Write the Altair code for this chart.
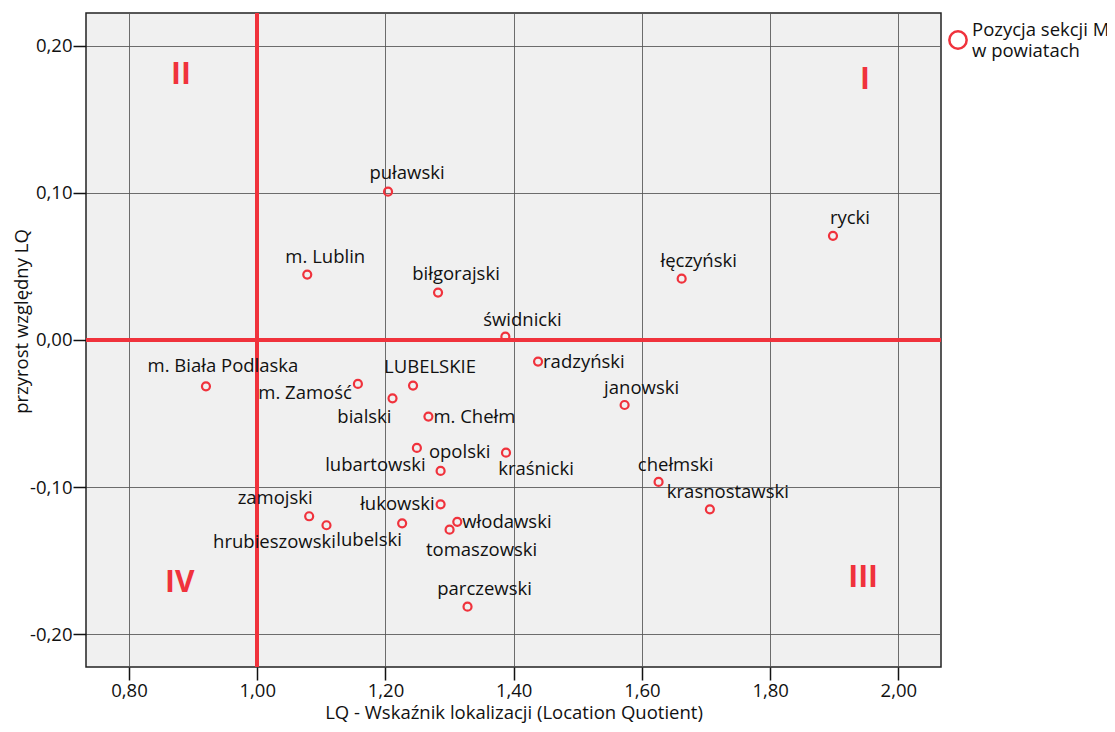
import altair as alt
import pandas as pd

# ---- data ----
names = ["puławski", "m. Lublin", "biłgorajski", "świdnicki", "rycki", "łęczyński",
         "radzyński", "janowski", "LUBELSKIE", "bialski", "m. Chełm", "opolski",
         "lubartowski", "kraśnicki", "chełmski", "krasnostawski", "łukowski",
         "lubelski", "włodawski", "tomaszowski", "zamojski", "hrubieszowski",
         "m. Biała Podlaska", "m. Zamość", "parczewski"]
lq = [1.204, 1.078, 1.282, 1.387, 1.898, 1.662,
      1.438, 1.573, 1.243, 1.211, 1.267, 1.249,
      1.286, 1.388, 1.626, 1.706, 1.286,
      1.226, 1.312, 1.300, 1.081, 1.108,
      0.920, 1.157, 1.328]
growth = [0.1007, 0.0444, 0.0322, 0.0022, 0.0707, 0.0416,
          -0.0147, -0.0442, -0.0310, -0.0397, -0.0521, -0.0734,
          -0.0890, -0.0766, -0.0965, -0.1151, -0.1117,
          -0.1246, -0.1236, -0.1289, -0.1198, -0.1259,
          -0.0315, -0.0299, -0.1812]

quad_labels = ["I", "II", "III", "IV"]
quad_x = [1.948, 0.881, 1.945, 0.879]
quad_y = [0.1768, 0.1802, -0.1615, -0.1649]

x_ticks = [0.8, 1.0, 1.2, 1.4, 1.6, 1.8, 2.0]
y_ticks = [-0.2, -0.1, 0.0, 0.1, 0.2]
series_name = "Pozycja sekcji M|w powiatach"

# label placement (align, dx, dy) relative to the point
label_place = {
    "puławski": ("center", 19, -19), "m. Lublin": ("center", 18, -18),
    "biłgorajski": ("center", 18, -19), "świdnicki": ("center", 17, -17),
    "rycki": ("center", 17, -18), "łęczyński": ("center", 17, -18),
    "radzyński": ("left", 5, 0), "janowski": ("center", 17, -17),
    "LUBELSKIE": ("center", 17, -19), "bialski": ("right", -1, 19),
    "m. Chełm": ("left", 5, 0), "opolski": ("left", 12, 4),
    "lubartowski": ("right", -15, -6), "kraśnicki": ("center", 30, 16),
    "chełmski": ("center", 17, -17), "krasnostawski": ("center", 18, -17),
    "łukowski": ("right", -6, 0), "lubelski": ("center", -33, 17),
    "włodawski": ("left", 5, 0), "tomaszowski": ("center", 32, 20),
    "zamojski": ("center", -34, -18), "hrubieszowski": ("center", -52, 17),
    "m. Biała Podlaska": ("center", 17, -20), "m. Zamość": ("right", -6, 9),
    "parczewski": ("center", 17, -18),
}

RED = "#f0323c"
FONT = "Open Sans"
FS = 18.5

df = pd.DataFrame({"name": names, "lq": lq, "growth": growth,
                   "series": [series_name] * len(names)})
qdf = pd.DataFrame({"q": quad_labels, "x": quad_x, "y": quad_y})

xs = alt.Scale(domain=[0.7329, 2.0665], nice=False, zero=False)
ys = alt.Scale(domain=[-0.2222, 0.2221], nice=False, zero=False)

lab_expr = "(datum.value < 0 ? '-' : '') + replace(format(abs(datum.value), '.2f'), '.', ',')"

base = alt.Chart(df)

rules_v = alt.Chart(df).mark_rule(color=RED, strokeWidth=3).encode(
    x=alt.datum(1.0, scale=xs))
rules_h = alt.Chart(df).mark_rule(color=RED, strokeWidth=3).encode(
    y=alt.datum(0.0, scale=ys))

points = base.mark_point(filled=False, size=64, strokeWidth=2.2, opacity=1).encode(
    x=alt.X("lq:Q", scale=xs,
            axis=alt.Axis(values=x_ticks, labelExpr=lab_expr,
                          title="LQ - Wskaźnik lokalizacji (Location Quotient)")),
    y=alt.Y("growth:Q", scale=ys,
            axis=alt.Axis(values=y_ticks, labelExpr=lab_expr,
                          title="przyrost względny LQ",
                          titleX=-65, titleY=308, titleBaseline="middle",
                          titleAngle=270, titleAlign="center")),
    color=alt.Color("series:N", scale=alt.Scale(range=[RED]),
                    legend=alt.Legend(title=None, orient="none", legendX=862, legendY=17,
                                      labelExpr="split(datum.label, '|')",
                                      labelBaseline="bottom",
                                      symbolType="circle", symbolSize=300,
                                      symbolStrokeWidth=2.5, symbolFillColor="transparent",
                                      labelFontSize=FS, labelFont=FONT, labelColor="#111",
                                      labelLimit=400, labelOffset=4)),
)

label_layers = []
for n in names:
    a, dx, dy = label_place[n]
    label_layers.append(
        base.transform_filter(alt.datum.name == n).mark_text(
            align=a, baseline="middle", dx=dx, dy=dy, fontSize=FS, font=FONT,
            color="#111").encode(x=alt.X("lq:Q", scale=xs), y=alt.Y("growth:Q", scale=ys),
                                 text="name:N"))

quads = alt.Chart(qdf).mark_text(fontSize=30, fontWeight="bold", color=RED, font=FONT,
                                 baseline="middle").encode(
    x=alt.X("x:Q", scale=xs), y=alt.Y("y:Q", scale=ys), text="q:N")

chart = alt.layer(rules_v, rules_h, quads, points, *label_layers).properties(
    width=855, height=654,
    autosize=alt.AutoSizeParams(type="none"),
    padding={"left": 78, "top": 5, "right": 166, "bottom": 57},
).configure(
    style={"guide-label": {"lineHeight": 21}}
).configure_view(
    fill="#f0f0f0", stroke="#222", strokeWidth=1.5
).configure_axis(
    grid=True, gridColor="#555", gridOpacity=0.85, gridWidth=1,
    domain=False, tickColor="#111", tickSize=13, tickWidth=1.5,
    labelFont=FONT, labelFontSize=FS, labelColor="#111",
    titleFont=FONT, titleFontSize=FS, titleFontWeight="normal", titleColor="#111",
).configure_axisX(labelPadding=1, titlePadding=4, labelFlush=False
).configure_axisY(labelPadding=1)

chart.save("out.html", embed_options={"renderer": "svg", "actions": False})
